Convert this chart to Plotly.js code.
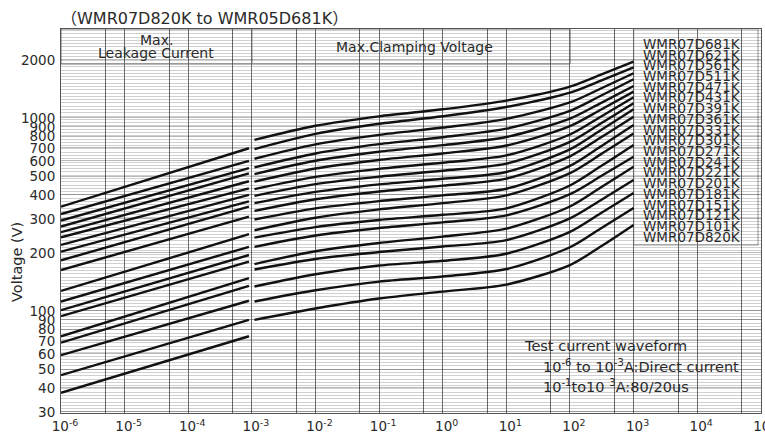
<!DOCTYPE html>
<html>
<head>
<meta charset="utf-8">
<script src="https://cdn.plot.ly/plotly-3.0.1.min.js"></script>
<style>html,body{margin:0;padding:0;background:#fff}#chart{width:765px;height:432px}</style>
</head>
<body>
<div id="chart"></div>
<script>
// ---- data (order: top curve to bottom curve) ----
const models = ['WMR07D681K','WMR07D621K','WMR07D561K','WMR07D511K','WMR07D471K','WMR07D431K','WMR07D391K','WMR07D361K','WMR07D331K','WMR07D301K','WMR07D271K','WMR07D241K','WMR07D221K','WMR07D201K','WMR07D181K','WMR07D151K','WMR07D121K','WMR07D101K','WMR07D820K'];

// Max. leakage current segment (A)
const leakCurrents = [1e-6, 9e-4];
const leakStart = [347, 318, 294, 274, 256, 241, 220, 203, 183, 163, 127, 112, 101, 94, 74, 68.5, 59, 46.5, 37.7];
const leakEnd   = [697, 600, 550, 517, 470, 432, 400, 370, 347, 308, 250, 215, 195, 180, 148, 135, 113, 90, 74];

// Max. clamping voltage segment (A)
const clampCurrents = [1.1e-3, 1e-2, 1e-1, 1, 10, 100, 300, 1000];
const clampAt1mA   = [770, 690, 615, 555, 512, 468, 428, 395, 362, 330, 298, 262, 240, 215, 175, 164, 134, 112, 90];
const clampAt10mA  = [911, 827, 730, 655, 600, 547, 495, 454, 414, 379, 340, 304, 272, 246, 204, 186, 155, 128, 103];
const clampAt100mA = [1020, 933, 818, 732, 668, 606, 545, 497, 453, 416, 371, 336, 296, 269, 225, 202, 172, 142, 116];
const clampAt1A    = [1109, 1021, 892, 795, 723, 655, 586, 533, 484, 446, 397, 362, 315, 288, 243, 216, 182, 151, 126];
const clampAt10A   = [1230, 1140, 990, 880, 797, 720, 640, 580, 525, 485, 430, 397, 340, 313, 267, 233, 198, 165, 137];
const clampAt100A  = [1454, 1352, 1204, 1088, 992, 907, 821, 752, 687, 633, 565, 518, 447, 403, 348, 302, 257, 214, 173];
const clampAt300A  = [1671, 1558, 1417, 1299, 1191, 1100, 1011, 933, 861, 790, 710, 646, 560, 497, 435, 374, 320, 267, 215];
const clampAt1kA   = [1957, 1831, 1705, 1587, 1465, 1369, 1280, 1192, 1110, 1016, 920, 830, 725, 630, 559, 477, 409, 342, 279];

const xTickVals = [1e-6, 1e-5, 1e-4, 1e-3, 1e-2, 1e-1, 1, 10, 100, 1000, 1e4, 1e5];
const xTickText = ['10<sup>-6</sup>','10<sup>-5</sup>','10<sup>-4</sup>','10<sup>-3</sup>','10<sup>-2</sup>','10<sup>-1</sup>','10<sup>0</sup>','10<sup>1</sup>','10<sup>2</sup>','10<sup>3</sup>','10<sup>4</sup>','10<sup>5</sup>'];
const xMinorVals = [5e-6, 5e-5, 5e-4, 5e-3, 5e-2, 5e-1, 5, 50, 500, 5000, 5e4];
const yTickVals = [30, 40, 50, 60, 70, 80, 90, 100, 200, 300, 400, 500, 600, 700, 800, 900, 1000, 2000];
const yTickText = ['30','40','50','60','70','80','90','100','200','300','400','500','600','700','800','900','1000','2000'];

const titleText = '（WMR07D820K to WMR05D681K）';
const yTitleText = 'Voltage (V)';

// ---- dense horizontal chart-paper grid (style only) ----
const yMinorVals = [];
for (let v = 30; v < 2900; v *= 1.04) yMinorVals.push(v);

const FONT = 'DejaVu Sans, Noto Sans CJK SC, sans-serif';
const TXT = '#2a2a2a';

const traces = [];
models.forEach((m, i) => {
  traces.push({
    type: 'scatter', mode: 'lines', name: m + ' leakage',
    x: leakCurrents, y: [leakStart[i], leakEnd[i]],
    line: {color: '#111', width: 2.4}, showlegend: false, hoverinfo: 'skip'
  });
  traces.push({
    type: 'scatter', mode: 'lines', name: m,
    x: clampCurrents,
    y: [clampAt1mA[i], clampAt10mA[i], clampAt100mA[i], clampAt1A[i], clampAt10A[i], clampAt100A[i], clampAt300A[i], clampAt1kA[i]],
    line: {color: '#111', width: 2.4, shape: 'spline', smoothing: 0.8}, showlegend: false, hoverinfo: 'skip'
  });
});

// plot area in px: left 61, right 761, top 29, bottom 413
const py = p => (413 - p) / 384;
const px = p => (p - 61) / 700;

const annotations = [];
annotations.push({xref:'paper', yref:'paper', x: px(59), y: py(19), xanchor:'left', yanchor:'middle', text: titleText, showarrow:false, font:{family: FONT, size:16, color: TXT}});
annotations.push({xref:'paper', yref:'paper', x: px(17), y: py(262), xanchor:'center', yanchor:'middle', text: yTitleText, textangle: -90, showarrow:false, font:{family: FONT, size:14.5, color: TXT}});
annotations.push({xref:'paper', yref:'paper', x: px(156), y: py(40), xanchor:'center', yanchor:'middle', text: 'Max.', showarrow:false, font:{family: FONT, size:14, color: TXT}});
annotations.push({xref:'paper', yref:'paper', x: px(156), y: py(53), xanchor:'center', yanchor:'middle', text: 'Leakage Current', showarrow:false, font:{family: FONT, size:14, color: TXT}});
annotations.push({xref:'paper', yref:'paper', x: px(415), y: py(47), xanchor:'center', yanchor:'middle', text: 'Max.Clamping Voltage', showarrow:false, font:{family: FONT, size:14, color: TXT}});
models.forEach((m, i) => {
  annotations.push({xref:'paper', yref:'paper', x: px(641), y: py(44 + i * 10.7), xanchor:'left', yanchor:'middle', text: m, showarrow:false, font:{family: FONT, size:13.5, color: TXT}});
});
annotations.push({xref:'paper', yref:'paper', x: px(522), y: py(346), xanchor:'left', yanchor:'middle', text: 'Test current waveform', showarrow:false, font:{family: FONT, size:14.5, color: TXT}});
annotations.push({xref:'paper', yref:'paper', x: px(541), y: py(366), xanchor:'left', yanchor:'middle', text: '10<sup>-6</sup> to 10<sup>-3</sup>A:Direct current', showarrow:false, font:{family: FONT, size:14.5, color: TXT}});
annotations.push({xref:'paper', yref:'paper', x: px(541), y: py(386), xanchor:'left', yanchor:'middle', text: '10<sup>-1</sup>to10 <sup>3</sup>A:80/20us', showarrow:false, font:{family: FONT, size:14.5, color: TXT}});

const shapes = [
  // header boxes
  {type:'rect', xref:'paper', yref:'paper', x0:0, x1:8/11, y0:py(64), y1:1, fillcolor:'#fff', line:{color:'#777', width:1}, layer:'between'},
  {type:'line', xref:'paper', yref:'paper', x0:3/11, x1:3/11, y0:py(64), y1:1, line:{color:'#777', width:1}, layer:'between'},
  // legend box
  {type:'rect', xref:'paper', yref:'paper', x0:9/11, x1:px(758), y0:py(245), y1:1, fillcolor:'#fff', line:{color:'#999', width:1}, layer:'between'},
  // test-waveform box
  {type:'rect', xref:'paper', yref:'paper', x0:px(508), x1:1, y0:py(394), y1:py(329), fillcolor:'#fff', line:{width:0}, layer:'between'}
];

const layout = {
  width: 765, height: 432,
  margin: {l: 61, r: 4, t: 29, b: 19, pad: 0},
  paper_bgcolor: '#fff', plot_bgcolor: '#fff',
  showlegend: false, hovermode: false,
  xaxis: {
    type: 'log', range: [-6, 5.003], autorange: false,
    tickmode: 'array', tickvals: xTickVals, ticktext: xTickText,
    ticks: '', ticklabelshift: 4, ticklabelstandoff: 1, ticklabeloverflow: 'allow',
    showgrid: true, gridcolor: '#6a6a6a', gridwidth: 1,
    minor: {tickmode: 'array', tickvals: xMinorVals, showgrid: true, gridcolor: '#6a6a6a', gridwidth: 1, ticks: ''},
    showline: true, linecolor: '#555', linewidth: 1, mirror: true, zeroline: false,
    tickfont: {family: FONT, size: 13.5, color: TXT}, fixedrange: true
  },
  yaxis: {
    type: 'log', range: [1.4715, 3.461], autorange: false,
    tickmode: 'array', tickvals: yTickVals, ticktext: yTickText,
    ticks: '', ticklabelstandoff: 2,
    showgrid: true, gridcolor: 'rgba(0,0,0,0.28)', gridwidth: 1,
    minor: {tickmode: 'array', tickvals: yMinorVals, showgrid: true, gridcolor: 'rgba(0,0,0,0.23)', gridwidth: 0.8, ticks: ''},
    showline: true, linecolor: '#555', linewidth: 1, mirror: true, zeroline: false,
    tickfont: {family: FONT, size: 13.5, color: TXT}, fixedrange: true
  },
  annotations: annotations,
  shapes: shapes
};

Plotly.newPlot('chart', traces, layout, {displayModeBar: false, staticPlot: true});
</script>
</body>
</html>
